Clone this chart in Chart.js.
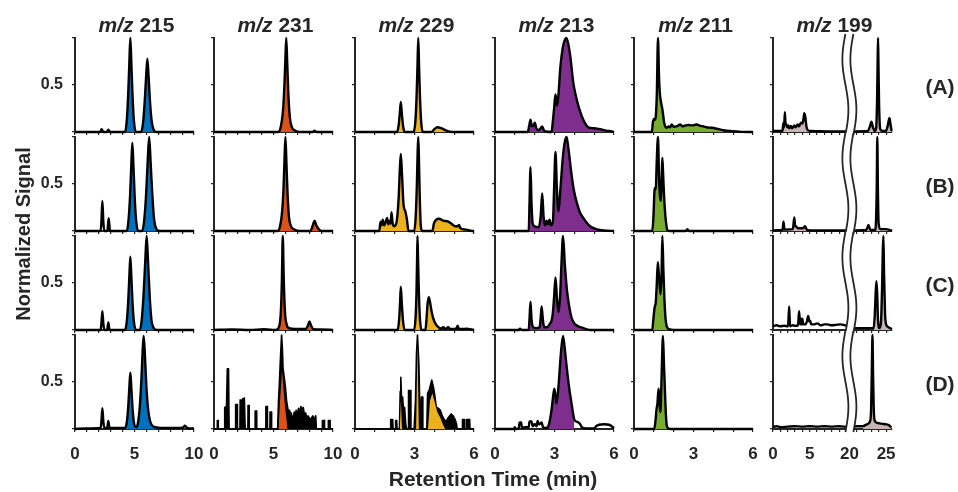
<!DOCTYPE html>
<html>
<head>
<meta charset="utf-8">
<script src="https://cdn.jsdelivr.net/npm/chart.js@4.4.0/dist/chart.umd.min.js"></script>
<style>
  body { margin: 0; width: 958px; height: 492px; position: relative; overflow: hidden; background: #fff;
         font-family: "Liberation Sans", Arial, sans-serif; font-weight: bold; color: #262626; }
  canvas { position: absolute; }
  .lbl { position: absolute; white-space: nowrap; text-align: center; }
</style>
</head>
<body>
<script>
// ---- labels ----
const massLabels = ["215", "231", "229", "213", "211", "199"];
const rowLabels = ["(A)", "(B)", "(C)", "(D)"];
const xMax = [10, 10, 6, 6, 6, 16.2];
const fillColors = ["#0072BD", "#D95319", "#EDB120", "#7E2F8E", "#77AC30", "#c9b5b5"];
const ticks199 = [0, 1, 2, 3, 4, 5, 6, 7, 8, 9, 20, 21, 22, 23, 24, 25];
const BREAK_AT = 10.4;     // display position of the axis break (= 20 min)
const BREAK_SHIFT = 9.6;

// ---- traces: [retention time (min), normalized signal] ----
const mz215A = [[0,0],[2.1,0],[2.24,0.03],[2.38,0],[2.68,0],[2.8,0.025],[2.93,0],[4.2,0],[4.35,0.12],[4.47,0.4],[4.57,0.75],[4.65,1],[4.73,0.75],[4.83,0.4],[4.95,0.12],[5.12,0],[5.55,0],[5.72,0.1],[5.86,0.33],[5.98,0.6],[6.08,0.78],[6.18,0.6],[6.3,0.33],[6.44,0.12],[6.62,0.02],[6.85,0],[10,0]];
const mz215B = [[0,0],[2.15,0],[2.22,0.1],[2.3,0.32],[2.38,0.1],[2.46,0],[2.72,0],[2.83,0.135],[2.94,0],[4.35,0],[4.5,0.12],[4.63,0.38],[4.73,0.7],[4.82,0.94],[4.91,0.7],[5.01,0.38],[5.13,0.12],[5.3,0],[5.65,0],[5.82,0.12],[5.97,0.38],[6.1,0.72],[6.23,1],[6.36,0.72],[6.5,0.38],[6.65,0.12],[6.85,0.02],[7.1,0],[10,0]];
const mz215C = [[0,0],[2.15,0],[2.22,0.07],[2.3,0.2],[2.38,0.07],[2.46,0],[2.7,0],[2.8,0.08],[2.9,0],[4.2,0],[4.35,0.09],[4.47,0.3],[4.57,0.58],[4.65,0.78],[4.73,0.58],[4.83,0.3],[4.95,0.09],[5.12,0],[5.45,0],[5.6,0.1],[5.75,0.35],[5.9,0.72],[6.02,1],[6.14,0.72],[6.28,0.35],[6.43,0.1],[6.62,0.02],[6.85,0],[10,0]];
const mz215D = [[0,0],[1,0.005],[2.15,0.01],[2.22,0.08],[2.3,0.22],[2.38,0.08],[2.46,0.01],[2.7,0.01],[2.8,0.085],[2.9,0.01],[4.2,0.01],[4.35,0.07],[4.47,0.23],[4.57,0.45],[4.65,0.6],[4.73,0.45],[4.83,0.23],[4.95,0.07],[5.12,0.02],[5.25,0.04],[5.42,0.2],[5.57,0.5],[5.68,0.82],[5.77,0.99],[5.87,0.8],[6,0.45],[6.15,0.2],[6.32,0.08],[6.55,0.03],[7,0.015],[8,0.01],[9.05,0.015],[9.24,0.035],[9.45,0.01],[10,0.005]];

const mz231A = [[0,0],[5.4,0],[5.6,0.05],[5.78,0.2],[5.9,0.45],[6,0.78],[6.07,1],[6.15,0.75],[6.25,0.4],[6.38,0.15],[6.55,0.05],[6.8,0.015],[7.2,0],[8.3,0],[8.45,0.015],[8.6,0],[10,0]];
const mz231B = [[0,0],[5.35,0],[5.55,0.05],[5.72,0.2],[5.84,0.45],[5.93,0.78],[6,1],[6.08,0.75],[6.18,0.4],[6.3,0.15],[6.48,0.05],[6.75,0.015],[7.2,0],[8.1,0],[8.3,0.06],[8.45,0.11],[8.6,0.06],[8.8,0.02],[9,0],[10,0]];
const mz231C = [[0,0],[1.5,0.005],[3,0],[4.2,0.008],[5.2,0],[5.48,0.04],[5.62,0.2],[5.7,0.5],[5.78,1],[5.86,0.55],[5.96,0.2],[6.1,0.06],[6.3,0.02],[6.8,0.01],[7.7,0.01],[7.9,0.05],[8.02,0.09],[8.15,0.05],[8.35,0.01],[9,0.005],[10,0]];
const mz231D = [[0,0],[0.28,0],[0.28,0.09],[0.36,0.09],[0.36,0],[0.85,0],[0.9,0.23],[1.05,0.24],[1.12,0.64],[1.22,0.64],[1.27,0],[1.8,0],[1.82,0.26],[1.95,0.26],[1.97,0],[2.18,0],[2.2,0.31],[2.35,0.3],[2.4,0.32],[2.5,0.32],[2.55,0.33],[2.6,0.33],[2.62,0],[2.85,0],[2.86,0.25],[2.95,0.25],[2.96,0],[3.45,0],[3.46,0.19],[3.58,0.19],[3.59,0],[4.35,0],[4.36,0.24],[4.48,0.24],[4.49,0],[4.7,0],[4.71,0.18],[4.83,0.18],[4.84,0],[5.35,0],[5.42,0.3],[5.5,0.5],[5.6,0.8],[5.68,1],[5.75,0.85],[5.8,0.65],[5.9,0.55],[6,0.45],[6.1,0.3],[6.2,0.22],[6.3,0.16],[6.35,0.2],[6.45,0.12],[6.5,0.17],[6.6,0.09],[6.65,0.12],[6.75,0.18],[6.85,0.12],[6.9,0.2],[7,0.14],[7.1,0.22],[7.2,0.17],[7.3,0.24],[7.4,0.2],[7.5,0.23],[7.6,0.15],[7.7,0.17],[7.8,0.11],[7.9,0.14],[8.1,0.1],[8.3,0.14],[8.45,0.1],[8.55,0.14],[8.6,0],[9.1,0],[9.11,0.09],[9.28,0.09],[9.29,0],[9.6,0],[9.61,0.09],[9.75,0.09],[9.76,0],[10,0]];
const peak231D = [[5.42,0],[5.55,0.3],[5.72,0.62],[5.85,0.4],[6,0.2],[6.18,0]];

const mz229A = [[0,0],[2.12,0],[2.2,0.07],[2.26,0.2],[2.31,0.32],[2.36,0.2],[2.42,0.07],[2.5,0],[2.95,0],[3.04,0.1],[3.1,0.35],[3.15,0.7],[3.19,1],[3.23,0.7],[3.28,0.35],[3.34,0.1],[3.42,0],[3.85,0],[4,0.03],[4.15,0.05],[4.35,0.04],[4.6,0.015],[4.9,0],[6,0]];
const mz229B = [[0,0],[1.22,0],[1.29,0.1],[1.34,0.06],[1.4,0.12],[1.47,0.06],[1.55,0.1],[1.62,0.14],[1.68,0.07],[1.74,0.11],[1.8,0.08],[1.84,0.2],[1.9,0.08],[1.98,0.05],[2.1,0.1],[2.2,0.35],[2.26,0.65],[2.31,0.82],[2.37,0.6],[2.44,0.3],[2.55,0.2],[2.62,0.12],[2.7,0],[2.98,0],[3.06,0.15],[3.12,0.5],[3.16,0.85],[3.19,1],[3.22,0.8],[3.26,0.4],[3.32,0.05],[3.4,0],[3.9,0],[3.98,0.08],[4.1,0.12],[4.23,0.13],[4.45,0.11],[4.7,0.1],[4.85,0.08],[5.05,0.05],[5.18,0.05],[5.24,0.065],[5.32,0.03],[5.6,0.015],[5.9,0],[6,0]];
const mz229C = [[0,0],[2.15,0],[2.22,0.1],[2.27,0.28],[2.31,0.46],[2.36,0.28],[2.42,0.1],[2.5,0],[2.98,0],[3.05,0.12],[3.1,0.4],[3.13,0.75],[3.15,1],[3.18,0.75],[3.22,0.4],[3.28,0.1],[3.36,0],[3.55,0],[3.6,0.1],[3.66,0.28],[3.72,0.35],[3.78,0.3],[3.86,0.2],[3.95,0.12],[4.05,0.07],[4.2,0.03],[4.35,0.015],[4.45,0.03],[4.55,0.01],[4.7,0.03],[4.8,0.01],[5,0.01],[5.12,0.02],[5.18,0.045],[5.24,0.01],[5.5,0.01],[5.6,0.015],[6,0]];
const mz229D = [[0,0],[1.78,0],[1.8,0.1],[1.9,0.1],[1.92,0],[2.04,0],[2.05,0.09],[2.1,0.09],[2.12,0],[2.24,0],[2.28,0.4],[2.31,0.55],[2.35,0.3],[2.4,0.34],[2.45,0.2],[2.5,0.23],[2.56,0.05],[2.6,0],[2.68,0],[2.7,0.41],[2.8,0.41],[2.82,0],[2.98,0],[3.05,0.3],[3.1,0.8],[3.15,1],[3.22,0.7],[3.28,0.1],[3.32,0],[3.35,0.34],[3.4,0.34],[3.42,0],[3.62,0],[3.66,0.38],[3.75,0.42],[3.87,0.52],[3.95,0.45],[4.02,0.36],[4.1,0.23],[4.2,0.22],[4.3,0.2],[4.4,0.14],[4.5,0.1],[4.6,0.08],[4.7,0.12],[4.85,0.16],[4.95,0.14],[5.05,0.1],[5.12,0.05],[5.15,0],[5.4,0],[5.42,0.1],[5.5,0.1],[5.52,0],[5.6,0],[5.62,0.1],[5.78,0.1],[5.8,0],[6,0]];
const peak229D = [[2.26,0],[2.31,0.3],[2.37,0],[3.08,0],[3.15,0.9],[3.22,0],[3.68,0],[3.78,0.3],[3.9,0.38],[4,0.3],[4.15,0.18],[4.3,0.12],[4.45,0.04],[4.55,0]];

const mz213A = [[0,0],[1.65,0],[1.72,0.06],[1.79,0.13],[1.86,0.06],[1.94,0.07],[2.01,0.1],[2.08,0.04],[2.2,0.02],[2.3,0.04],[2.38,0.06],[2.46,0.02],[2.55,0.005],[2.85,0],[2.92,0.12],[2.98,0.25],[3.05,0.4],[3.13,0.28],[3.2,0.4],[3.3,0.7],[3.42,0.9],[3.52,0.98],[3.6,1],[3.7,0.93],[3.8,0.8],[3.95,0.52],[4.07,0.39],[4.2,0.28],[4.32,0.2],[4.45,0.13],[4.58,0.08],[4.7,0.05],[5,0.04],[5.3,0.03],[5.6,0.015],[5.9,0.005],[6,0]];
const mz213B = [[0,0],[1.7,0],[1.74,0.3],[1.79,0.68],[1.84,0.3],[1.9,0.08],[2,0.05],[2.2,0.04],[2.3,0.15],[2.38,0.4],[2.45,0.15],[2.52,0.06],[2.6,0.11],[2.67,0.07],[2.75,0.12],[2.82,0.06],[2.92,0.1],[2.98,0.45],[3.05,0.84],[3.12,0.45],[3.2,0.21],[3.3,0.45],[3.42,0.78],[3.52,0.95],[3.61,1],[3.7,0.88],[3.86,0.6],[3.98,0.43],[4.1,0.32],[4.28,0.2],[4.45,0.14],[4.62,0.09],[4.79,0.05],[5.1,0.02],[5.5,0.005],[6,0]];
const mz213C = [[0,0],[1.2,0],[1.26,0.015],[1.35,0],[1.7,0],[1.74,0.12],[1.79,0.3],[1.84,0.12],[1.92,0.03],[2.05,0.02],[2.25,0.03],[2.3,0.12],[2.35,0.25],[2.41,0.12],[2.48,0.03],[2.6,0.03],[2.75,0.06],[2.9,0.15],[2.98,0.35],[3.05,0.56],[3.12,0.35],[3.2,0.19],[3.28,0.35],[3.35,0.7],[3.43,1],[3.52,0.7],[3.63,0.42],[3.75,0.24],[3.86,0.13],[4,0.07],[4.2,0.04],[4.45,0.02],[4.6,0.01],[4.8,0],[6,0]];
const mz213D = [[0,0],[0.95,0],[1,0.02],[1.05,0],[1.2,0.01],[1.24,0.07],[1.32,0.07],[1.36,0.01],[1.5,0.02],[1.7,0.02],[1.74,0.08],[1.84,0.08],[1.9,0.03],[2,0.05],[2.1,0.03],[2.15,0.085],[2.22,0.05],[2.3,0.06],[2.35,0.07],[2.42,0.02],[2.6,0.01],[2.72,0.05],[2.85,0.2],[2.95,0.38],[3,0.43],[3.1,0.27],[3.2,0.45],[3.32,0.8],[3.43,0.99],[3.52,0.85],[3.63,0.63],[3.75,0.42],[3.86,0.27],[4,0.1],[4.1,0.08],[4.2,0.07],[4.3,0.05],[4.37,0.02],[4.6,0.005],[5,0.005],[5.1,0.03],[5.25,0.045],[5.5,0.05],[5.75,0.045],[5.88,0.03],[6,0.01]];

const mz211A = [[0,0],[0.9,0],[0.95,0.1],[1,0.14],[1.06,0.13],[1.1,0.17],[1.15,0.4],[1.21,1],[1.26,0.6],[1.3,0.42],[1.36,0.32],[1.44,0.23],[1.53,0.09],[1.6,0.05],[1.66,0.045],[1.75,0.06],[1.82,0.05],[1.9,0.08],[2,0.055],[2.1,0.06],[2.2,0.065],[2.32,0.08],[2.45,0.06],[2.6,0.07],[2.74,0.075],[2.9,0.07],[3.05,0.075],[3.16,0.08],[3.35,0.065],[3.5,0.06],[3.66,0.05],[3.9,0.045],[4.17,0.035],[4.5,0.02],[4.84,0.01],[5.2,0.005],[5.85,0],[6,0]];
const mz211B = [[0,0],[0.92,0],[0.98,0.15],[1.03,0.42],[1.06,0.46],[1.1,0.44],[1.14,0.7],[1.21,1],[1.26,0.6],[1.3,0.39],[1.36,0.32],[1.4,0.6],[1.43,0.78],[1.47,0.6],[1.51,0.4],[1.56,0.22],[1.61,0.1],[1.68,0.01],[1.8,0],[2.6,0],[2.69,0.02],[2.78,0],[6,0]];
const mz211C = [[0,0],[0.92,0],[0.97,0.1],[1.04,0.24],[1.1,0.3],[1.15,0.5],[1.2,0.72],[1.25,0.6],[1.28,0.51],[1.34,0.38],[1.39,0.6],[1.43,1],[1.48,0.65],[1.53,0.35],[1.59,0.12],[1.65,0.04],[1.75,0.01],[2,0],[6,0]];
const mz211D = [[0,0],[1.02,0],[1.08,0.08],[1.13,0.2],[1.18,0.27],[1.24,0.43],[1.28,0.3],[1.33,0.18],[1.39,0.55],[1.46,0.99],[1.51,0.7],[1.56,0.41],[1.61,0.15],[1.65,0.04],[1.72,0.01],[1.85,0],[6,0]];

const mz199A = [[0,0.01],[1.2,0.01],[1.3,0.02],[1.43,0.1],[1.52,0.05],[1.61,0.21],[1.7,0.1],[1.8,0.08],[1.95,0.05],[2.07,0.07],[2.2,0.04],[2.43,0.065],[2.6,0.04],[2.9,0.07],[3.1,0.05],[3.35,0.08],[3.55,0.06],[3.8,0.1],[4,0.09],[4.15,0.14],[4.26,0.2],[4.4,0.16],[4.55,0.06],[4.72,0.02],[5.2,0.01],[6,0.008],[8,0.005],[10.3,0.005],[20.1,0.005],[22.5,0.01],[22.8,0.06],[23,0.11],[23.2,0.05],[23.45,0.01],[23.65,0.05],[23.77,0.35],[23.84,0.72],[23.9,1],[23.96,0.7],[24.04,0.3],[24.2,0.03],[24.5,0.01],[24.95,0.01],[25.2,0.06],[25.45,0.15],[25.6,0.08],[25.75,0.01]];
const mz199B = [[0,0.005],[1.3,0.01],[1.43,0.1],[1.55,0.02],[1.6,0.015],[2.7,0.02],[2.9,0.145],[3.02,0.05],[3.1,0.05],[3.4,0.03],[3.8,0.03],[4.1,0.03],[4.35,0.05],[4.55,0.02],[4.72,0.01],[5.5,0.005],[10.3,0.005],[20.1,0.005],[22.3,0.01],[22.6,0.065],[22.85,0.01],[23.5,0.01],[23.62,0.1],[23.72,0.45],[23.8,1],[23.88,0.45],[23.98,0.08],[24.2,0.02],[25,0.02],[25.5,0.01],[25.8,0.005]];
const mz199C = [[0,0.04],[0.5,0.05],[1,0.04],[1.5,0.045],[2.05,0.04],[2.2,0.25],[2.32,0.04],[2.7,0.05],[3,0.045],[3.4,0.05],[3.56,0.2],[3.68,0.06],[3.8,0.12],[3.9,0.06],[4,0.12],[4.12,0.06],[4.4,0.06],[4.65,0.1],[4.79,0.15],[4.95,0.09],[5.06,0.1],[5.2,0.06],[5.6,0.06],[6.05,0.07],[6.5,0.05],[7,0.06],[7.4,0.06],[8,0.05],[8.6,0.055],[9.2,0.06],[9.8,0.05],[10.3,0.04],[20.1,0.03],[21,0.02],[23.3,0.02],[23.45,0.15],[23.58,0.4],[23.68,0.52],[23.78,0.4],[23.9,0.1],[24.1,0.02],[24.3,0.08],[24.45,0.45],[24.55,0.85],[24.63,1],[24.72,0.6],[24.85,0.18],[25,0.06],[25.3,0.03],[25.8,0.01]];
const mz199D = [[0,0.02],[0.5,0.03],[1,0.02],[2,0.025],[3,0.03],[4,0.025],[5,0.03],[6,0.025],[7,0.03],[8,0.025],[9,0.03],[10.3,0.02],[20.1,0.02],[21,0.03],[21.8,0.03],[22.4,0.05],[22.8,0.08],[22.95,0.2],[23.05,0.6],[23.14,1],[23.23,0.55],[23.35,0.15],[23.5,0.08],[23.8,0.065],[24.1,0.06],[24.5,0.055],[25,0.05],[25.4,0.04],[25.7,0.015]];

// coloured ranges [from, to] (min) for each row A..D
const fill215 = [[[4.1, 7.0]], [[4.3, 7.2]], [[4.1, 7.0]], [[4.1, 7.0]]];
const fill231 = [[[5.3, 7.3]], [[5.3, 9.1]], [[5.3, 8.5]], []];
const fill229 = [[[2.0, 5.0]], [[1.1, 6.0]], [[2.0, 4.3]], []];
const fill213 = [[[1.6, 6.0]], [[1.6, 6.0]], [[1.6, 4.8]], [[2.68, 4.05]]];
const fill211 = [[[0.9, 4.6]], [[0.9, 1.8]], [[0.9, 2.0]], [[1.0, 1.9]]];
const fill199 = [[[1.2, 5.2], [22.5, 25.8]], [[1.2, 5.0], [22.2, 25.8]], [[23.3, 25.8]], [[21.7, 25.8]]];

const traces = [
  [mz215A, mz215B, mz215C, mz215D],
  [mz231A, mz231B, mz231C, mz231D],
  [mz229A, mz229B, mz229C, mz229D],
  [mz213A, mz213B, mz213C, mz213D],
  [mz211A, mz211B, mz211C, mz211D],
  [mz199A, mz199B, mz199C, mz199D],
];
const fills = [fill215, fill231, fill229, fill213, fill211, fill199];

// ---- layout ----
const AXIS = "#262626";
const PANEL_LEFT = [75, 214, 355, 495, 634, 773];
const PANEL_TOP = [38, 137, 236, 335];
const PW = 119, PH = 94;
const YW = 45, XH = 40, PAD_T = 10, PAD_R = 14;

Chart.defaults.font.family = '"Liberation Sans", Arial, sans-serif';
Chart.defaults.font.weight = "bold";
Chart.defaults.font.size = 16;
Chart.defaults.color = AXIS;

function toDisp(col, t) {
  return col === 5 && t > 15 ? t - BREAK_SHIFT : t;
}

const breakPlugin = {
  id: "axisBreak",
  afterDraw(chart) {
    const { ctx, chartArea: a, scales: { x } } = chart;
    const cx = x.getPixelForValue(BREAK_AT);
    const y0 = a.top - 4, y1 = a.bottom + 3, n = 40;
    const left = [], right = [];
    for (let i = 0; i <= n; i++) {
      const y = y0 + (y1 - y0) * i / n;
      const dx = -3 * Math.sin(2 * Math.PI * i / n);
      left.push([cx + dx - 4, y]);
      right.push([cx + dx + 4, y]);
    }
    ctx.save();
    ctx.beginPath();
    left.forEach(([px, py], i) => i ? ctx.lineTo(px, py) : ctx.moveTo(px, py));
    right.slice().reverse().forEach(([px, py]) => ctx.lineTo(px, py));
    ctx.closePath();
    ctx.fillStyle = "#fff";
    ctx.fill();
    ctx.strokeStyle = AXIS;
    ctx.lineWidth = 1.8;
    [left, right].forEach(side => {
      ctx.beginPath();
      side.forEach(([px, py], i) => i ? ctx.lineTo(px, py) : ctx.moveTo(px, py));
      ctx.stroke();
    });
    ctx.restore();
  }
};

function xLabel(col, v) {
  if (col <= 1) return v % 5 === 0 ? String(v) : "";
  if (col <= 4) return v % 3 === 0 ? String(v) : "";
  const real = v > BREAK_AT - 0.2 ? Math.round(v + BREAK_SHIFT) : Math.round(v);
  return [0, 5, 20, 25].includes(real) ? String(real) : "";
}

function makePanel(col, row) {
  const cv = document.createElement("canvas");
  cv.width = YW + PW + PAD_R;
  cv.height = PAD_T + PH + XH;
  cv.style.left = (PANEL_LEFT[col] - YW) + "px";
  cv.style.top = (PANEL_TOP[row] - PAD_T) + "px";
  document.body.appendChild(cv);

  const pts = traces[col][row];
  const toXY = arr => arr.map(([t, y]) => ({ x: toDisp(col, t), y }));
  const noisy = (col === 1 || col === 2) && row === 3;
  const color = fillColors[col];

  const traceSet = {
    data: toXY(pts),
    borderColor: "#000",
    borderWidth: noisy ? 1.6 : 2.4,
    borderJoinStyle: "round",
    backgroundColor: "#000",
    fill: noisy ? "origin" : false,
    pointRadius: 0,
    cubicInterpolationMode: noisy ? "default" : "monotone",
    tension: 0,
    clip: false,
  };
  const areaSets = fills[col][row].map(([a, b]) => ({
    data: toXY(pts.filter(p => p[0] >= a && p[0] <= b)),
    borderColor: "rgba(0,0,0,0)",
    borderWidth: 0,
    backgroundColor: color,
    fill: "origin",
    pointRadius: 0,
    cubicInterpolationMode: "monotone",
    clip: false,
  }));
  let datasets = [traceSet, ...areaSets];
  if (noisy) {
    const overlay = col === 1 ? peak231D : peak229D;
    datasets = [{
      data: toXY(overlay),
      borderColor: "rgba(0,0,0,0)",
      borderWidth: 0,
      backgroundColor: color,
      fill: "origin",
      pointRadius: 0,
      tension: 0,
      clip: false,
    }, traceSet];
  }

  new Chart(cv, {
    type: "line",
    data: { datasets },
    options: {
      responsive: false,
      animation: false,
      devicePixelRatio: 1,
      events: [],
      layout: { padding: { top: PAD_T, right: PAD_R, left: 0, bottom: 0 } },
      plugins: { legend: { display: false }, tooltip: { enabled: false } },
      scales: {
        x: {
          type: "linear",
          min: 0,
          max: xMax[col],
          afterBuildTicks: s => {
            if (col === 5) s.ticks = ticks199.map(t => ({ value: toDisp(col, t) }));
          },
          afterFit: s => { s.height = XH; s.paddingLeft = 0; s.paddingRight = 0; },
          grid: { drawOnChartArea: false, drawTicks: true, tickLength: 3, color: AXIS, lineWidth: 1.2 },
          border: { display: true, color: AXIS, width: 2 },
          ticks: {
            display: row === 3,
            stepSize: 1,
            autoSkip: false,
            maxRotation: 0,
            padding: 12,
            font: { size: 17 },
            callback: v => xLabel(col, v),
          },
        },
        y: {
          min: 0,
          max: 1,
          afterBuildTicks: s => { s.ticks = [0, 0.5, 1].map(v => ({ value: v })); },
          afterFit: s => { s.width = YW; s.paddingTop = 0; s.paddingBottom = 0; },
          grid: { drawOnChartArea: false, drawTicks: true, tickLength: 3, color: AXIS, lineWidth: 1.2 },
          border: { display: true, color: AXIS, width: 2 },
          ticks: {
            display: col === 0,
            padding: 9,
            callback: v => (v === 0.5 ? "0.5" : ""),
          },
        },
      },
    },
    plugins: col === 5 ? [breakPlugin] : [],
  });
}

function addLabel(html, cx, cy, size, rotate) {
  const d = document.createElement("div");
  d.className = "lbl";
  d.innerHTML = html;
  d.style.fontSize = size + "px";
  d.style.lineHeight = size + "px";
  d.style.width = "300px";
  d.style.left = (cx - 150) + "px";
  d.style.top = (cy - size / 2) + "px";
  if (rotate) d.style.transform = "rotate(-90deg)";
  document.body.appendChild(d);
}

for (let col = 0; col < 6; col++) {
  for (let row = 0; row < 4; row++) makePanel(col, row);
  addLabel("<i>m/z</i> " + massLabels[col], PANEL_LEFT[col] + PW / 2 + 2, 24, 21);
}
rowLabels.forEach((t, row) => addLabel(t, 940, PANEL_TOP[row] + PH / 2 + 1, 21));
addLabel("Normalized Signal", 23, 234, 20, true);
addLabel("Retention Time (min)", 493, 478, 21);
</script>
</body>
</html>
